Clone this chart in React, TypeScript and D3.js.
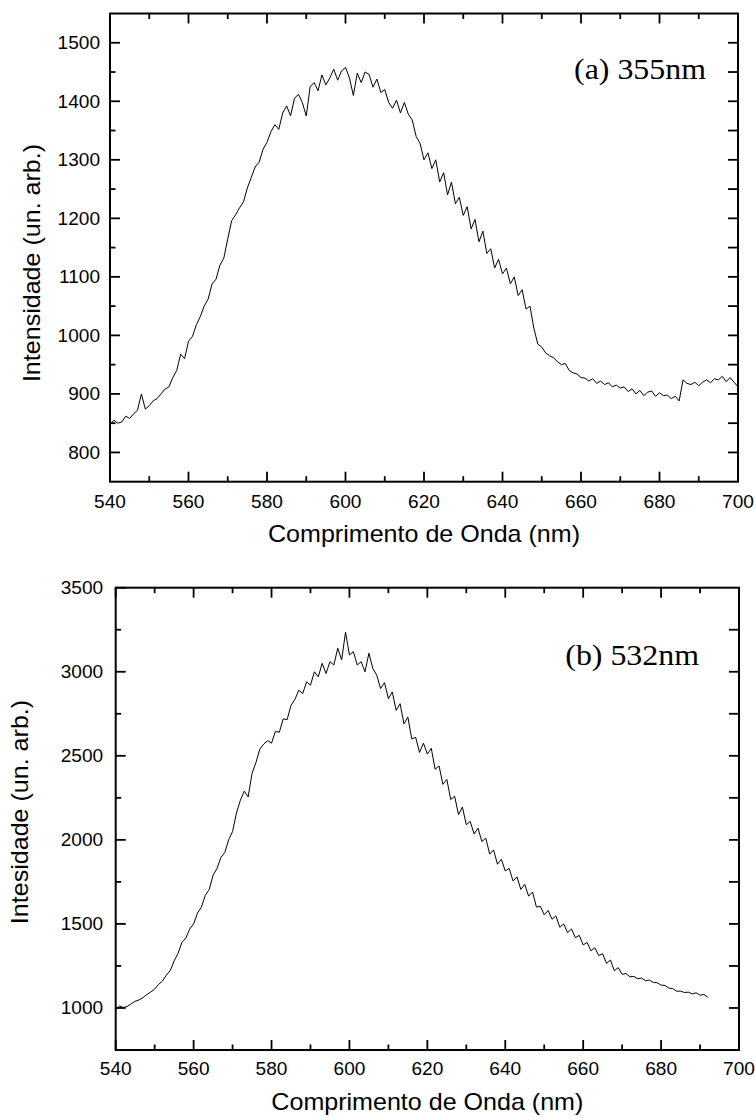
import React from 'react';
import * as d3 from 'd3';

// ---------- DATA ----------
const wavelengthsA = d3.range(540, 701); // nm, 540..700
const intensityA = [
  848, 855, 850, 852, 862, 858, 866, 872, 900, 874,
  880, 888, 892, 900, 908, 912, 928, 940, 968, 960,
  990, 998, 1018, 1032, 1050, 1062, 1088, 1096, 1120, 1132,
  1165, 1196, 1206, 1218, 1228, 1252, 1270, 1288, 1296, 1318,
  1330, 1348, 1360, 1352, 1380, 1392, 1375, 1405, 1412, 1398,
  1375, 1425, 1432, 1418, 1445, 1428, 1440, 1455, 1436, 1452,
  1458, 1440, 1410, 1448, 1432, 1450, 1446, 1424, 1438, 1415,
  1420, 1398, 1388, 1402, 1380, 1398, 1378, 1368, 1340, 1328,
  1300, 1312, 1285, 1300, 1262, 1278, 1240, 1262, 1225, 1236,
  1205, 1220, 1182, 1198, 1160, 1178, 1140, 1148, 1115, 1130,
  1105, 1115, 1088, 1100, 1068, 1078, 1045, 1050, 1012, 985,
  980, 970, 965, 962, 955, 950, 952, 940, 936, 934,
  928, 927, 922, 926, 918, 922, 916, 919, 912, 915,
  910, 912, 904, 909, 900, 906, 897, 903, 905, 896,
  902, 897, 898, 892, 896, 888, 924, 918, 916, 920,
  914, 920, 924, 919, 926, 924, 930, 921, 928, 920,
  912,
];

const wavelengthsB = d3.range(540, 693); // nm, 540..692
const intensityB = [
  990, 1012, 1002, 1010, 1025, 1040, 1048, 1062, 1080, 1095,
  1112, 1140, 1160, 1195, 1222, 1280, 1325, 1390, 1415, 1470,
  1500, 1565, 1600, 1670, 1705, 1790, 1830, 1895, 1925, 2000,
  2050, 2160, 2235, 2290, 2255, 2395, 2460, 2540, 2570, 2590,
  2575, 2645, 2640, 2720, 2715, 2800, 2835, 2890, 2870, 2940,
  2920, 3000, 2970, 3050, 2990, 3060, 3040, 3140, 3070, 3235,
  3100, 3120, 3040, 3060, 3000, 3110, 3020, 2980, 2900, 2935,
  2840, 2880, 2770, 2810, 2690, 2730, 2600, 2610, 2520, 2575,
  2510, 2545, 2420, 2440, 2330, 2360, 2240, 2260, 2150, 2195,
  2090, 2110, 2035, 2070, 1990, 2010, 1915, 1940, 1855, 1885,
  1815, 1830, 1755, 1780, 1705, 1735, 1665, 1690, 1600, 1605,
  1555, 1580, 1528, 1548, 1480, 1500, 1448, 1470, 1418, 1432,
  1375, 1390, 1340, 1358, 1312, 1322, 1265, 1285, 1222, 1240,
  1200, 1205, 1185, 1188, 1174, 1178, 1162, 1166, 1152, 1150,
  1136, 1134, 1118, 1115, 1100, 1100, 1092, 1094, 1084, 1090,
  1076, 1080, 1064,
];

const xDomain = [540, 700];
const xMajorTicks = [540, 560, 580, 600, 620, 640, 660, 680, 700];
const xMinorTicks = [550, 570, 590, 610, 630, 650, 670, 690];

const yDomainA = [750, 1550];
const yMajorTicksA = [800, 900, 1000, 1100, 1200, 1300, 1400, 1500];
const yMinorTicksA = [850, 950, 1050, 1150, 1250, 1350, 1450];
const yRightTicksA = [800, 850, 900, 950, 1000, 1050, 1100, 1150, 1200, 1250, 1300, 1350, 1400, 1450, 1500];

const yDomainB = [750, 3500];
const yMajorTicksB = [1000, 1500, 2000, 2500, 3000, 3500];
const yMinorTicksB = [1250, 1750, 2250, 2750, 3250];
const yRightTicksB = [1000, 1250, 1500, 1750, 2000, 2250, 2500, 2750, 3000, 3250];

const xTitle = 'Comprimento de Onda (nm)';
const yTitleA = 'Intensidade (un. arb.)';
const yTitleB = 'Intesidade (un. arb.)';
const tagA = '(a) 355nm';
const tagB = '(b) 532nm';

// ---------- STYLE ----------
const SANS = 'Liberation Sans, Arial, sans-serif';
const SERIF = 'Liberation Serif, Times New Roman, serif';
const SX = 1.09;

type TProps = {
  x: number; y: number; anchor?: string; size: number; family: string;
  sx?: number; rotate?: number; dy?: string; children: React.ReactNode;
};
const T = ({ x, y, anchor = 'middle', size, family, sx = SX, rotate, dy, children }: TProps) => (
  <text
    transform={`translate(${x},${y})${rotate ? ` rotate(${rotate})` : ''} scale(${sx},1)`}
    textAnchor={anchor}
    style={{ fontFamily: family, fontSize: `${size}px` }}
    dy={dy}
    fill="#000"
  >
    {children}
  </text>
);

type PanelProps = {
  xs: number[]; ys: number[];
  left: number; right: number; top: number; bottom: number;
  yDomain: number[]; yMajor: number[]; yMinor: number[]; yRight: number[];
  yLabelGap: number; xLabelY: number;
  yTitle: string; yTitleX: number; yTitleY: number;
  xTitleY: number;
  tag: string; tagX: number; tagY: number;
};

function Panel(p: PanelProps) {
  const x = d3.scaleLinear().domain(xDomain).range([p.left, p.right]);
  const y = d3.scaleLinear().domain(p.yDomain).range([p.bottom, p.top]);
  const line = d3
    .line<number>()
    .x((_, i) => x(p.xs[i]))
    .y((d) => y(d));
  const MAJ = 10;
  const MIN = 5.5;
  const tickW = 1.8;
  return (
    <g>
      <path d={line(p.ys) || ''} fill="none" stroke="#000" strokeWidth={1} strokeLinejoin="round" />
      <rect
        x={p.left}
        y={p.top}
        width={p.right - p.left}
        height={p.bottom - p.top}
        fill="none"
        stroke="#000"
        strokeWidth={2}
      />
      {xMajorTicks.map((v) => (
        <g key={'xM' + v}>
          <line x1={x(v)} x2={x(v)} y1={p.bottom} y2={p.bottom - MAJ} stroke="#000" strokeWidth={tickW} />
          <line x1={x(v)} x2={x(v)} y1={p.top} y2={p.top + MAJ} stroke="#000" strokeWidth={tickW} />
          <T x={x(v)} y={p.xLabelY} size={17.5} family={SANS}>{v}</T>
        </g>
      ))}
      {xMinorTicks.map((v) => (
        <g key={'xm' + v}>
          <line x1={x(v)} x2={x(v)} y1={p.bottom} y2={p.bottom - MIN} stroke="#000" strokeWidth={tickW} />
          <line x1={x(v)} x2={x(v)} y1={p.top} y2={p.top + MIN} stroke="#000" strokeWidth={tickW} />
        </g>
      ))}
      {p.yMajor.map((v) => (
        <g key={'yM' + v}>
          <line x1={p.left} x2={p.left + MAJ} y1={y(v)} y2={y(v)} stroke="#000" strokeWidth={tickW} />
          <T x={p.left - p.yLabelGap} y={y(v)} anchor="end" size={17.5} family={SANS} dy="0.36em">{v}</T>
        </g>
      ))}
      {p.yMinor.map((v) => (
        <line key={'ym' + v} x1={p.left} x2={p.left + MIN} y1={y(v)} y2={y(v)} stroke="#000" strokeWidth={tickW} />
      ))}
      {p.yRight.map((v) => (
        <line key={'yr' + v} x1={p.right} x2={p.right - MAJ} y1={y(v)} y2={y(v)} stroke="#000" strokeWidth={tickW} />
      ))}
      <T x={(p.left + p.right) / 2} y={p.xTitleY} size={23} family={SANS}>{xTitle}</T>
      <T x={p.yTitleX} y={p.yTitleY} size={23} family={SANS} rotate={-90}>{p.yTitle}</T>
      <T x={p.tagX} y={p.tagY} anchor="end" size={29} family={SERIF} sx={1.1}>{p.tag}</T>
    </g>
  );
}

export default function App() {
  return (
    <svg
      width={755}
      height={1120}
      viewBox="0 0 755 1120"
      style={{ position: 'absolute', left: 0, top: 0, background: '#fff' }}
    >
      <rect x={0} y={0} width={755} height={1120} fill="#fff" />
      <Panel
        xs={wavelengthsA}
        ys={intensityA}
        left={110}
        right={738}
        top={13.5}
        bottom={481.7}
        yDomain={yDomainA}
        yMajor={yMajorTicksA}
        yMinor={yMinorTicksA}
        yRight={yRightTicksA}
        yLabelGap={10}
        xLabelY={507.5}
        yTitle={yTitleA}
        yTitleX={40}
        yTitleY={263}
        xTitleY={542}
        tag={tagA}
        tagX={706}
        tagY={78.5}
      />
      <Panel
        xs={wavelengthsB}
        ys={intensityB}
        left={115.7}
        right={739}
        top={587.7}
        bottom={1050}
        yDomain={yDomainB}
        yMajor={yMajorTicksB}
        yMinor={yMinorTicksB}
        yRight={yRightTicksB}
        yLabelGap={12.5}
        xLabelY={1075}
        yTitle={yTitleB}
        yTitleX={28}
        yTitleY={812}
        xTitleY={1110}
        tag={tagB}
        tagX={699}
        tagY={665}
      />
    </svg>
  );
}
